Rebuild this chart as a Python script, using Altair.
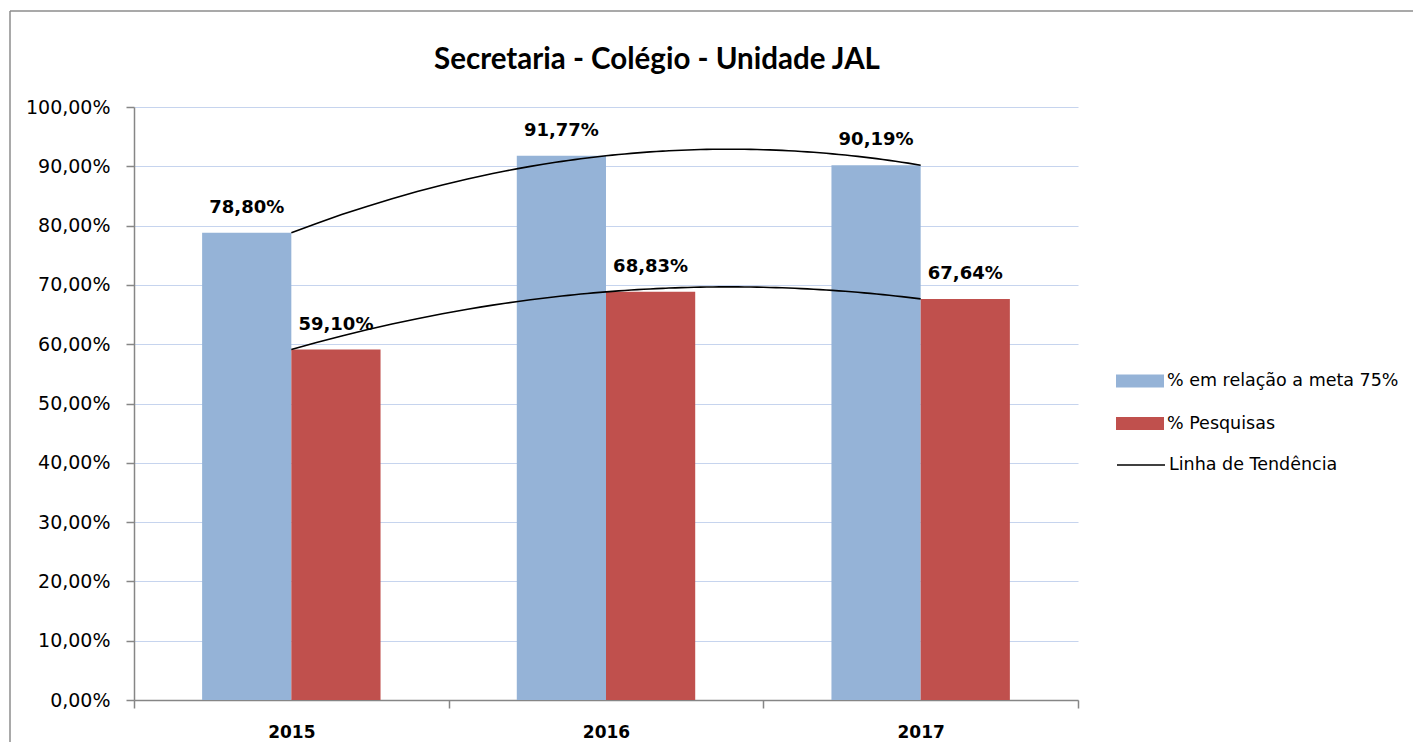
import altair as alt
import pandas as pd

# ---------------- data ----------------
anos = ["2015", "2016", "2017"]
series = ["% em relação a meta 75%", "% Pesquisas"]
meta = [78.80, 91.77, 90.19]
pesquisas = [59.10, 68.83, 67.64]
tend_label = "Linha de Tendência"
titulo = "Secretaria - Colégio - Unidade JAL"
y_ticks = [0, 10, 20, 30, 40, 50, 60, 70, 80, 90, 100]

rows = []
for i, a in enumerate(anos):
    rows.append({"ano": a, "anoNum": int(a), "serie": series[0], "valor": meta[i]})
    rows.append({"ano": a, "anoNum": int(a), "serie": series[1], "valor": pesquisas[i]})
df = pd.DataFrame(rows)

BLUE = "#95b3d7"
RED = "#c0504d"
AXIS = "#868686"
GRID = "#c6d4ee"
FONT = "DejaVu Sans"

RECT = "M-2,-0.54L2,-0.54L2,0.54L-2,0.54Z"
LINE = "M-2,0L2,0"

bar_legend = alt.Legend(
    title=None, orient="none", legendX=994, legendY=262,
    symbolType=RECT, symbolSize=576, symbolStrokeWidth=0, symbolOpacity=1,
    labelFont=FONT, labelFontSize=17.5, labelColor="#000000", labelLimit=500,
    labelOffset=15, rowPadding=21.5,
)
line_legend = alt.Legend(
    title=None, orient="none", legendX=994, legendY=262 + 83,
    symbolType=LINE, symbolSize=576, symbolStrokeWidth=1.5,
    labelFont=FONT, labelFontSize=17.5, labelColor="#000000", labelLimit=500,
    labelOffset=15,
)

y_enc = alt.Y(
    "valor:Q",
    scale=alt.Scale(domain=[0, 100], nice=False),
    axis=alt.Axis(
        title=None, values=y_ticks,
        labelExpr="replace(format(datum.value, '.2f'), '.', ',') + '%'",
        labelFont=FONT, labelFontSize=19, labelColor="#000000", labelPadding=16,
        tickSize=8, tickColor=AXIS, tickWidth=1.5,
        domainColor=AXIS, domainWidth=1.5,
        gridColor=GRID, gridWidth=1.2,
    ),
)

x_scale = alt.Scale(paddingInner=0, paddingOuter=0)
off_scale = alt.Scale(paddingInner=0, paddingOuter=0.7636)

bars = alt.Chart(df).mark_bar().encode(
    x=alt.X("ano:N", sort=anos, scale=x_scale, axis=alt.Axis(
        title=None, labelAngle=0, labelFont=FONT, labelFontWeight="bold",
        labelFontSize=17, labelColor="#000000", labelPadding=16,
        tickBand="extent", tickSize=8, tickColor=AXIS, tickWidth=1.5,
        domainColor=AXIS, domainWidth=1.5, grid=False)),
    xOffset=alt.XOffset("serie:N", sort=series, scale=off_scale),
    y=y_enc,
    color=alt.Color("serie:N", scale=alt.Scale(domain=series, range=[BLUE, RED]), legend=bar_legend),
)

labels = alt.Chart(df).transform_calculate(
    lbl="replace(format(datum.valor, '.2f'), '.', ',') + '%'"
).mark_text(
    font=FONT, fontWeight="bold", fontSize=18, color="#000000",
    baseline="alphabetic", dy=-20
).encode(
    x=alt.X("ano:N", sort=anos),
    xOffset=alt.XOffset("serie:N", sort=series),
    y=alt.Y("valor:Q"),
    text="lbl:N",
)

trend = alt.Chart(df).transform_regression(
    "anoNum", "valor", groupby=["serie"], method="poly", order=2
).transform_calculate(
    tend=f"'{tend_label}'"
).mark_line(strokeWidth=1.6).encode(
    x=alt.X("anoNum:Q", scale=alt.Scale(domain=[2014.5, 2017.5], nice=False, zero=False), axis=None),
    y=alt.Y("valor:Q"),
    stroke=alt.Stroke("tend:N", scale=alt.Scale(domain=[tend_label], range=["#000000"]), legend=line_legend),
    detail="serie:N",
)

one = pd.DataFrame({"k": [0]})
border_top = alt.Chart(one).mark_rule(color="#8c8c8c", strokeWidth=1.5).encode(
    x=alt.value(-124), x2=alt.value(1320), y=alt.value(-96))
border_left = alt.Chart(one).mark_rule(color="#8c8c8c", strokeWidth=1.5).encode(
    x=alt.value(-124), y=alt.value(-96), y2=alt.value(700))

inner = alt.layer(bars, labels)

chart = alt.layer(border_top, border_left, inner, trend).resolve_scale(
    x="independent"
).properties(
    width=944, height=593,
    autosize=alt.AutoSizeParams(type="none"),
    padding={"left": 126, "top": 99, "right": 335, "bottom": 42},
    title=alt.TitleParams(
        text=titulo, font="Lato", fontSize=29.5, fontWeight="bold", color="#000000",
        anchor="middle", frame="group", dx=51, baseline="alphabetic", offset=-88,
    ),
).configure_view(stroke=None)

chart.save("out.html", embed_options={"renderer": "svg", "actions": False})
